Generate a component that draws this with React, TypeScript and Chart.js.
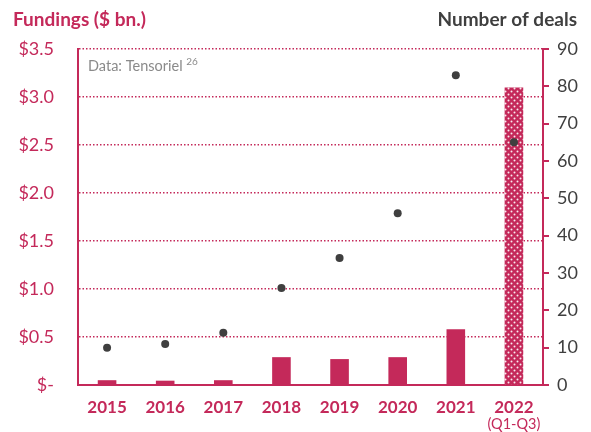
import React, { useEffect, useRef } from "react";
import { Chart, registerables } from "chart.js";
Chart.register(...registerables);

const categories = ["2015", "2016", "2017", "2018", "2019", "2020", "2021", "2022"];
const subLabels = ["", "", "", "", "", "", "", "(Q1-Q3)"];
const fundings = [0.05, 0.045, 0.05, 0.29, 0.27, 0.29, 0.58, 3.1];
const deals = [10, 11, 14, 26, 34, 46, 83, 65];
const leftTitle = "Fundings ($ bn.)";
const rightTitle = "Number of deals";
const sourceText = "Data: Tensoriel";
const sourceSup = "26";

const CRIMSON = "#C4295A";
const DARK = "#3f3f3f";
const FONT = "Lato, 'Open Sans', sans-serif";

function makePattern(): CanvasPattern | string {
  const c = document.createElement("canvas");
  c.width = 6;
  c.height = 6;
  const g = c.getContext("2d");
  if (!g) return CRIMSON;
  g.fillStyle = CRIMSON;
  g.fillRect(0, 0, 6, 6);
  g.fillStyle = "rgba(255,255,255,0.9)";
  g.beginPath();
  g.arc(1.5, 1.5, 1, 0, Math.PI * 2);
  g.arc(4.5, 4.5, 1, 0, Math.PI * 2);
  g.fill();
  const p = g.createPattern(c, "repeat");
  return p || CRIMSON;
}

export default function App() {
  const ref = useRef<HTMLCanvasElement | null>(null);
  useEffect(() => {
    if (!ref.current) return;
    const pattern = makePattern();
    const barColors = fundings.map((_, i) => (i === fundings.length - 1 ? pattern : CRIMSON));
    const textPlugin = {
      id: "texts",
      afterDraw(chart: any) {
        const ctx = chart.ctx;
        const x = chart.scales.x;
        ctx.save();
        ctx.textBaseline = "alphabetic";
        ctx.font = `bold 19px ${FONT}`;
        ctx.fillStyle = CRIMSON;
        ctx.textAlign = "left";
        ctx.fillText(leftTitle, 13, 26);
        ctx.fillStyle = DARK;
        ctx.textAlign = "right";
        ctx.fillText(rightTitle, 577, 26);
        ctx.font = `14.5px ${FONT}`;
        ctx.fillStyle = "#8a8a8a";
        ctx.textAlign = "left";
        ctx.fillText(sourceText, 88, 71);
        const w = ctx.measureText(sourceText + " ").width;
        ctx.font = `10px ${FONT}`;
        ctx.fillText(sourceSup, 88 + w, 65);
        ctx.font = `14.5px ${FONT}`;
        ctx.fillStyle = CRIMSON;
        ctx.textAlign = "center";
        subLabels.forEach((s, i) => {
          if (s) ctx.fillText(s, x.getPixelForValue(i), 429);
        });
        ctx.restore();
      },
    };
    const chart = new Chart(ref.current, {
      type: "bar",
      data: {
        labels: categories,
        datasets: [
          {
            type: "line",
            data: deals,
            yAxisID: "y1",
            showLine: false,
            pointRadius: 4,
            pointBackgroundColor: DARK,
            pointBorderColor: DARK,
            pointBorderWidth: 0,
            order: 0,
          } as any,
          {
            type: "bar",
            data: fundings,
            yAxisID: "y",
            backgroundColor: barColors as any,
            borderWidth: 0,
            barPercentage: 0.32,
            categoryPercentage: 1,
            order: 1,
          },
        ],
      },
      options: {
        animation: false,
        responsive: true,
        maintainAspectRatio: false,
        layout: { padding: { top: 49, left: 0, right: 0, bottom: 0 } },
        plugins: { legend: { display: false }, tooltip: { enabled: false } },
        scales: {
          x: {
            grid: { display: false, drawTicks: false },
            border: { display: true, color: CRIMSON, width: 2 },
            ticks: { color: CRIMSON, font: { family: FONT, size: 17, weight: "bold" }, padding: 12 },
            afterFit: (s: any) => {
              s.height = 47;
            },
          },
          y: {
            position: "left",
            min: 0,
            max: 3.5,
            grid: { color: CRIMSON, lineWidth: 1.5, drawTicks: false },
            border: { display: true, color: CRIMSON, width: 2, dash: [1.5, 2] },
            ticks: {
              stepSize: 0.5,
              color: CRIMSON,
              padding: 24,
              font: { family: FONT, size: 18 },
              callback: (v: any) => (Number(v) === 0 ? "$-" : "$" + Number(v).toFixed(1)),
            },
            afterFit: (s: any) => {
              s.width = 78;
            },
          },
          y1: {
            position: "right",
            min: 0,
            max: 90,
            grid: { drawOnChartArea: false, drawTicks: true, tickLength: 6, color: CRIMSON, lineWidth: 2 },
            border: { display: true, color: CRIMSON, width: 2 },
            ticks: { stepSize: 10, color: DARK, padding: 8, font: { family: FONT, size: 18 } },
            afterFit: (s: any) => {
              s.width = 48;
            },
          },
        },
      },
      plugins: [textPlugin],
    });
    return () => chart.destroy();
  }, []);
  return (
    <div style={{ position: "fixed", left: 0, top: 0, width: 591, height: 432, background: "#fff" }}>
      <canvas ref={ref} />
    </div>
  );
}
